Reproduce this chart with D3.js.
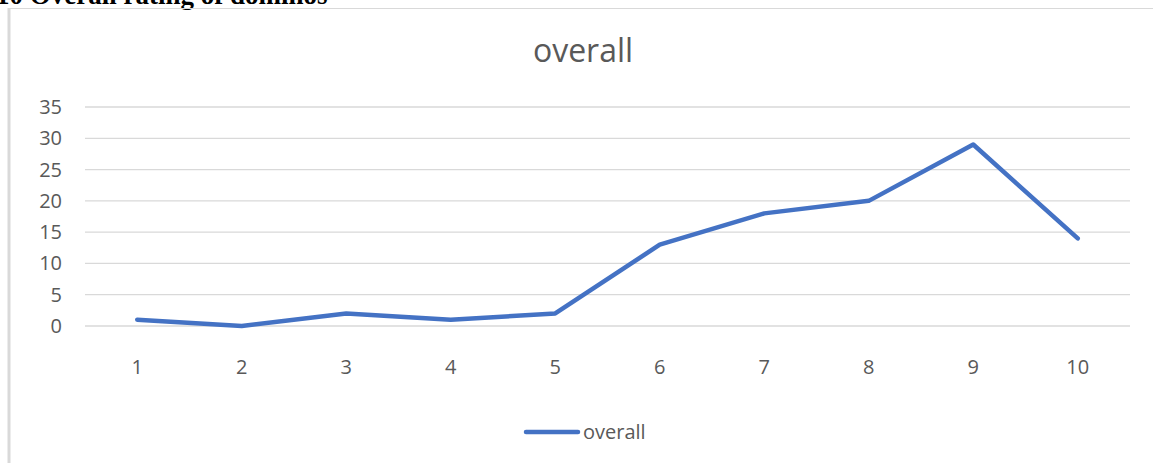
<!DOCTYPE html>
<html>
<head>
<meta charset="utf-8">
<script src="https://cdn.jsdelivr.net/npm/d3@7"></script>
<style>
  body { margin: 0; background: #fff; }
  svg { display: block; }
</style>
</head>
<body>
<div id="chart"></div>
<script>
const categories = ['1', '2', '3', '4', '5', '6', '7', '8', '9', '10'];
const overall = [1, 0, 2, 1, 2, 13, 18, 20, 29, 14];
const yTicks = [0, 5, 10, 15, 20, 25, 30, 35];
const seriesName = 'overall';
const chartTitle = 'overall';
const caption = '10 Overall rating of dominos';

const W = 1153, H = 463;
const margin = {left: 85, right: 23, top: 107, bottom: 137};

const svg = d3.select('#chart').append('svg')
  .attr('width', W).attr('height', H);

// caption, cut off at the top edge
svg.append('text')
  .attr('x', -4).attr('y', 4)
  .style('font-family', '"Liberation Serif", "Times New Roman", serif')
  .style('font-weight', 'bold')
  .style('font-size', '27px')
  .attr('fill', '#000')
  .text(caption);

// chart frame
svg.append('rect')
  .attr('x', 8.5).attr('y', 8.5)
  .attr('width', W + 10).attr('height', H + 10)
  .attr('fill', 'none')
  .attr('stroke', '#d9d9d9')
  .attr('stroke-width', 1);
svg.append('line')
  .attr('x1', 9).attr('x2', 9).attr('y1', 8).attr('y2', H)
  .attr('stroke', '#d9d9d9').attr('stroke-width', 3);

const x = d3.scaleBand()
  .domain(categories)
  .range([margin.left, W - margin.right]);

const y = d3.scaleLinear()
  .domain([0, 35])
  .range([H - margin.bottom, margin.top]);

// gridlines
svg.append('g')
  .selectAll('line')
  .data(yTicks)
  .join('line')
  .attr('x1', margin.left).attr('x2', W - margin.right)
  .attr('y1', d => y(d)).attr('y2', d => y(d))
  .attr('stroke', '#d9d9d9')
  .attr('stroke-width', 1.3);

const font = '"Open Sans", "Noto Sans", sans-serif';

// y labels
svg.append('g')
  .selectAll('text')
  .data(yTicks)
  .join('text')
  .attr('x', 62).attr('y', d => y(d))
  .attr('dy', '0.35em')
  .attr('text-anchor', 'end')
  .style('font-family', font)
  .style('font-size', '20px')
  .attr('fill', '#595959')
  .text(d => d);

// x labels
svg.append('g')
  .selectAll('text')
  .data(categories)
  .join('text')
  .attr('x', d => x(d) + x.bandwidth() / 2)
  .attr('y', 374)
  .attr('text-anchor', 'middle')
  .style('font-family', font)
  .style('font-size', '20px')
  .attr('fill', '#595959')
  .text(d => d);

// title
svg.append('text')
  .attr('x', 583).attr('y', 62)
  .attr('text-anchor', 'middle')
  .style('font-family', font)
  .style('font-size', '32px')
  .attr('fill', '#595959')
  .text(chartTitle);

// line
const line = d3.line()
  .x((d, i) => x(categories[i]) + x.bandwidth() / 2)
  .y(d => y(d));

svg.append('path')
  .datum(overall)
  .attr('d', line)
  .attr('fill', 'none')
  .attr('stroke', '#4472c4')
  .attr('stroke-width', 4.5)
  .attr('stroke-linecap', 'round')
  .attr('stroke-linejoin', 'round');

// legend
svg.append('line')
  .attr('x1', 526).attr('x2', 578)
  .attr('y1', 432).attr('y2', 432)
  .attr('stroke', '#4472c4')
  .attr('stroke-width', 4.5)
  .attr('stroke-linecap', 'round');
svg.append('text')
  .attr('x', 583).attr('y', 439)
  .style('font-family', font)
  .style('font-size', '20px')
  .attr('fill', '#595959')
  .text(seriesName);
</script>
</body>
</html>
